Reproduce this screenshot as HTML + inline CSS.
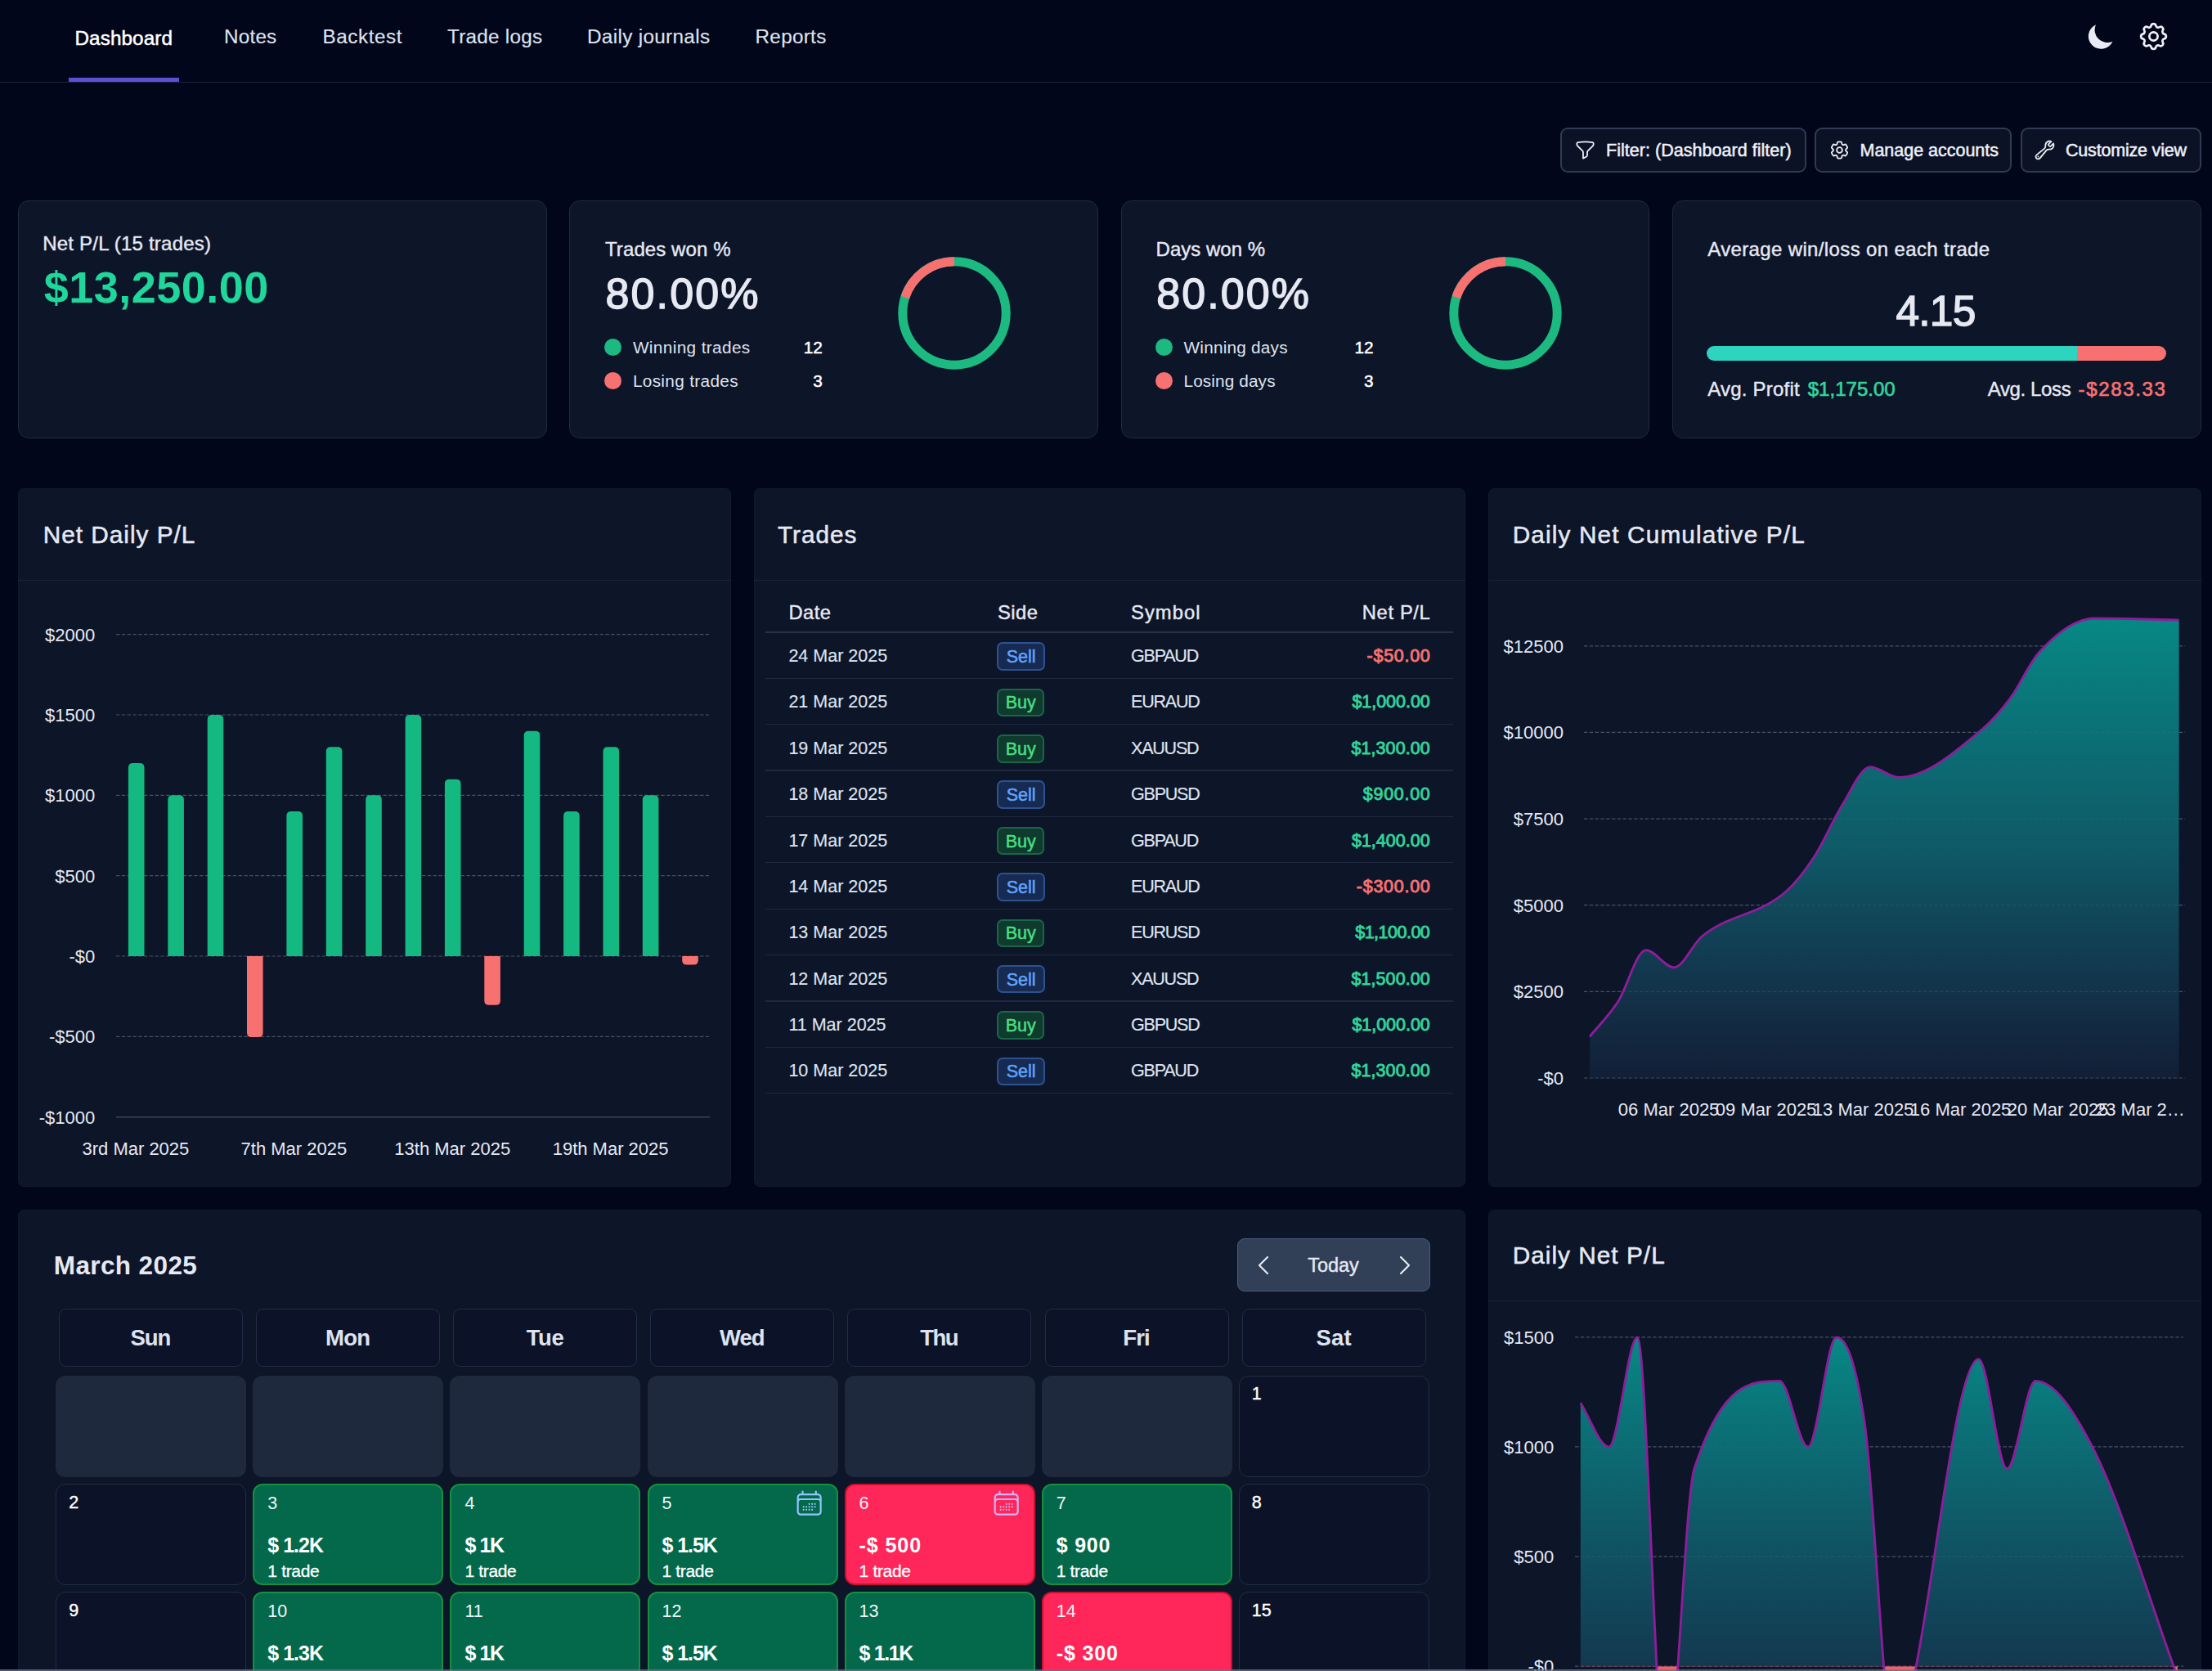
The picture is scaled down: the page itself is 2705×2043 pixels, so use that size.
<!DOCTYPE html>
<html lang="en"><head><meta charset="utf-8"><title>Dashboard</title><style>
html,body{margin:0;padding:0;background:#02061a}
body{width:2705px;height:2043px;position:relative;overflow:hidden;font-family:"Liberation Sans",sans-serif}
#root{position:absolute;left:0;top:0;width:2705px;height:2043px;overflow:hidden}
.t{position:absolute;white-space:nowrap;line-height:1}
.b{position:absolute;box-sizing:border-box}
svg text{font-family:"Liberation Sans",sans-serif}
</style></head><body><div id="root">
<div class="b" style="left:0.00px;top:99.70px;width:2705.00px;height:1.20px;background:#1f2539;"></div>
<div class="b" style="left:84.00px;top:95.40px;width:135.00px;height:4.20px;background:#5b50d6;"></div>
<div class="t" style="left:91.40px;top:35.00px;font-size:24.25px;color:#ffffff;letter-spacing:0.121px;-webkit-text-stroke:0.50px #ffffff;">Dashboard</div>
<div class="t" style="left:274.00px;top:33.00px;font-size:24.25px;color:#dfe3ee;letter-spacing:0.213px;-webkit-text-stroke:0.15px #dfe3ee;">Notes</div>
<div class="t" style="left:394.60px;top:33.00px;font-size:24.25px;color:#dfe3ee;letter-spacing:0.543px;-webkit-text-stroke:0.15px #dfe3ee;">Backtest</div>
<div class="t" style="left:547.00px;top:33.00px;font-size:24.25px;color:#dfe3ee;letter-spacing:0.259px;-webkit-text-stroke:0.15px #dfe3ee;">Trade logs</div>
<div class="t" style="left:718.00px;top:33.00px;font-size:24.25px;color:#dfe3ee;letter-spacing:0.342px;-webkit-text-stroke:0.15px #dfe3ee;">Daily journals</div>
<div class="t" style="left:923.50px;top:33.00px;font-size:24.25px;color:#dfe3ee;letter-spacing:0.315px;-webkit-text-stroke:0.15px #dfe3ee;">Reports</div>
<svg class="b" style="left:2550.1px;top:24.7px" width="38.7" height="38.7" viewBox="0 0 20 20"><path fill="#e9ecf5" d="M17.293 13.293A8 8 0 016.707 2.707a8.001 8.001 0 1010.586 10.586z"/></svg>
<svg class="b" style="left:2612.7px;top:23.9px" width="41" height="41" viewBox="0 0 24 24"><path fill="none" stroke="#eef0f8" stroke-width="1.6" stroke-linecap="round" stroke-linejoin="round" d="M10.325 4.317c.426-1.756 2.924-1.756 3.35 0a1.724 1.724 0 002.573 1.066c1.543-.94 3.31.826 2.37 2.37a1.724 1.724 0 001.065 2.572c1.756.426 1.756 2.924 0 3.35a1.724 1.724 0 00-1.066 2.573c.94 1.543-.826 3.31-2.37 2.37a1.724 1.724 0 00-2.572 1.065c-.426 1.756-2.924 1.756-3.35 0a1.724 1.724 0 00-2.573-1.066c-1.543.94-3.31-.826-2.37-2.37a1.724 1.724 0 00-1.065-2.572c-1.756-.426-1.756-2.924 0-3.35a1.724 1.724 0 001.066-2.573c-.94-1.543.826-3.31 2.37-2.37.996.608 2.296.07 2.572-1.065z"/><path fill="none" stroke="#eef0f8" stroke-width="1.6" stroke-linecap="round" stroke-linejoin="round" d="M15 12a3 3 0 11-6 0 3 3 0 016 0z"/></svg>
<div class="b" style="left:1908.40px;top:155.60px;width:300.60px;height:55.00px;background:#0b1226;border-radius:9px;border:2px solid #303a55;"></div>
<div class="b" style="left:2219.00px;top:155.60px;width:241.00px;height:55.00px;background:#0b1226;border-radius:9px;border:2px solid #303a55;"></div>
<div class="b" style="left:2470.50px;top:155.60px;width:221.00px;height:55.00px;background:#0b1226;border-radius:9px;border:2px solid #303a55;"></div>
<div class="t" style="left:1964.00px;top:174.00px;font-size:21.50px;color:#eef0f8;letter-spacing:0.035px;-webkit-text-stroke:0.50px #eef0f8;">Filter: (Dashboard filter)</div>
<div class="t" style="left:2274.50px;top:174.00px;font-size:21.50px;color:#eef0f8;letter-spacing:-0.016px;-webkit-text-stroke:0.50px #eef0f8;">Manage accounts</div>
<div class="t" style="left:2526.00px;top:174.00px;font-size:21.50px;color:#eef0f8;letter-spacing:-0.196px;-webkit-text-stroke:0.50px #eef0f8;">Customize view</div>
<svg class="b" style="left:1925px;top:170px" width="27" height="27" viewBox="0 0 24 24"><path fill="none" stroke="#eef0f8" stroke-width="1.6" stroke-linecap="round" stroke-linejoin="round" d="M12 3c2.755 0 5.455.232 8.083.678.533.09.917.556.917 1.096v1.044a2.25 2.25 0 0 1-.659 1.591l-5.432 5.432a2.25 2.25 0 0 0-.659 1.591v2.927a2.25 2.25 0 0 1-1.244 2.013L9.75 21v-6.568a2.25 2.25 0 0 0-.659-1.591L3.659 7.409A2.25 2.25 0 0 1 3 5.818V4.774c0-.54.384-1.006.917-1.096A48.32 48.32 0 0 1 12 3Z"/></svg>
<svg class="b" style="left:2236px;top:170px" width="27" height="27" viewBox="0 0 24 24"><path fill="none" stroke="#eef0f8" stroke-width="1.6" stroke-linecap="round" stroke-linejoin="round" d="M9.594 3.94c.09-.542.56-.94 1.11-.94h2.593c.55 0 1.02.398 1.11.94l.213 1.281c.063.374.313.686.645.87.074.04.147.083.22.127.325.196.72.257 1.075.124l1.217-.456a1.125 1.125 0 0 1 1.37.49l1.296 2.247a1.125 1.125 0 0 1-.26 1.431l-1.003.827c-.293.241-.438.613-.43.992a7.723 7.723 0 0 1 0 .255c-.008.378.137.75.43.991l1.004.827c.424.35.534.955.26 1.43l-1.298 2.247a1.125 1.125 0 0 1-1.369.491l-1.217-.456c-.355-.133-.75-.072-1.076.124a6.47 6.47 0 0 1-.22.128c-.331.183-.581.495-.644.869l-.213 1.281c-.09.543-.56.94-1.11.94h-2.594c-.55 0-1.019-.398-1.11-.94l-.213-1.281c-.062-.374-.312-.686-.644-.87a6.52 6.52 0 0 1-.22-.127c-.325-.196-.72-.257-1.076-.124l-1.217.456a1.125 1.125 0 0 1-1.369-.49l-1.297-2.247a1.125 1.125 0 0 1 .26-1.431l1.004-.827c.292-.24.437-.613.43-.991a6.932 6.932 0 0 1 0-.255c.007-.38-.138-.751-.43-.992l-1.004-.827a1.125 1.125 0 0 1-.26-1.43l1.297-2.247a1.125 1.125 0 0 1 1.37-.491l1.216.456c.356.133.751.072 1.076-.124.072-.044.146-.086.22-.128.332-.183.582-.495.644-.869l.214-1.28Z"/><path fill="none" stroke="#eef0f8" stroke-width="1.6" stroke-linecap="round" stroke-linejoin="round" d="M15 12a3 3 0 1 1-6 0 3 3 0 0 1 6 0Z"/></svg>
<svg class="b" style="left:2487px;top:170px" width="27" height="27" viewBox="0 0 24 24"><path fill="none" stroke="#eef0f8" stroke-width="1.6" stroke-linecap="round" stroke-linejoin="round" d="M21.75 6.75a4.5 4.5 0 0 1-4.884 4.484c-1.076-.091-2.264.071-2.95.904l-7.152 8.684a2.548 2.548 0 1 1-3.586-3.586l8.684-7.152c.833-.686.995-1.874.904-2.95a4.5 4.5 0 0 1 6.336-4.486l-3.276 3.276a3.004 3.004 0 0 0 2.25 2.25l3.276-3.276c.256.565.398 1.192.398 1.852Z"/><path fill="none" stroke="#eef0f8" stroke-width="1.6" stroke-linecap="round" stroke-linejoin="round" d="M4.867 19.125h.008v.008h-.008v-.008Z"/></svg>
<div class="b" style="left:22.00px;top:245.00px;width:647.00px;height:291.00px;background:#0d1529;border-radius:13px;border:1.5px solid #202a40;"></div>
<div class="b" style="left:696.00px;top:245.00px;width:647.00px;height:291.00px;background:#0d1529;border-radius:13px;border:1.5px solid #202a40;"></div>
<div class="b" style="left:1370.70px;top:245.00px;width:645.90px;height:291.00px;background:#0d1529;border-radius:13px;border:1.5px solid #202a40;"></div>
<div class="b" style="left:2045.00px;top:245.00px;width:646.50px;height:291.00px;background:#0d1529;border-radius:13px;border:1.5px solid #202a40;"></div>
<div class="t" style="left:52.20px;top:286.00px;font-size:24.00px;color:#e6e9f2;letter-spacing:0.218px;-webkit-text-stroke:0.40px #e6e9f2;">Net P/L (15 trades)</div>
<div class="t" style="left:53.80px;top:324.00px;font-size:54.00px;color:#1fd79b;font-weight:700;letter-spacing:0.459px;">$13,250.00</div>
<div class="t" style="left:740.00px;top:293.00px;font-size:24.00px;color:#e6e9f2;letter-spacing:0.090px;-webkit-text-stroke:0.40px #e6e9f2;">Trades won %</div>
<div class="t" style="left:740.60px;top:333.00px;font-size:52.00px;color:#e6e9f2;letter-spacing:2.087px;-webkit-text-stroke:1.40px #e6e9f2;">80.00%</div>
<div class="b" style="left:739.00px;top:413.60px;width:21.30px;height:21.40px;background:#1cb981;border-radius:11px;"></div>
<div class="b" style="left:739.00px;top:454.70px;width:21.30px;height:21.50px;background:#f87171;border-radius:11px;"></div>
<div class="t" style="left:773.90px;top:415.00px;font-size:20.75px;color:#dfe3ee;letter-spacing:0.377px;">Winning trades</div>
<div class="t" style="left:773.90px;top:456.00px;font-size:20.75px;color:#dfe3ee;letter-spacing:0.343px;">Losing trades</div>
<div class="t" style="left:982.82px;top:415.00px;font-size:20.75px;color:#ffffff;-webkit-text-stroke:0.50px #ffffff;">12</div>
<div class="t" style="left:994.36px;top:456.00px;font-size:20.75px;color:#ffffff;-webkit-text-stroke:0.50px #ffffff;">3</div>
<svg class="b" style="left:1087.0px;top:302.9px" width="160" height="160" viewBox="-80 -80 160 160"><circle r="63.20" fill="none" stroke="#1cb981" stroke-width="11"/><path d="M-60.11 -19.53A63.20 63.20 0 0 1 -0.00 -63.20" fill="none" stroke="#f87171" stroke-width="11"/></svg>
<div class="t" style="left:1413.60px;top:293.00px;font-size:24.00px;color:#e6e9f2;letter-spacing:0.013px;-webkit-text-stroke:0.40px #e6e9f2;">Days won %</div>
<div class="t" style="left:1414.20px;top:333.00px;font-size:52.00px;color:#e6e9f2;letter-spacing:2.087px;-webkit-text-stroke:1.40px #e6e9f2;">80.00%</div>
<div class="b" style="left:1412.60px;top:413.60px;width:21.30px;height:21.40px;background:#1cb981;border-radius:11px;"></div>
<div class="b" style="left:1412.60px;top:454.70px;width:21.30px;height:21.50px;background:#f87171;border-radius:11px;"></div>
<div class="t" style="left:1447.50px;top:415.00px;font-size:20.75px;color:#dfe3ee;letter-spacing:0.222px;">Winning days</div>
<div class="t" style="left:1447.50px;top:456.00px;font-size:20.75px;color:#dfe3ee;letter-spacing:0.126px;">Losing days</div>
<div class="t" style="left:1656.42px;top:415.00px;font-size:20.75px;color:#ffffff;-webkit-text-stroke:0.50px #ffffff;">12</div>
<div class="t" style="left:1667.96px;top:456.00px;font-size:20.75px;color:#ffffff;-webkit-text-stroke:0.50px #ffffff;">3</div>
<svg class="b" style="left:1760.6px;top:302.9px" width="160" height="160" viewBox="-80 -80 160 160"><circle r="63.20" fill="none" stroke="#1cb981" stroke-width="11"/><path d="M-60.11 -19.53A63.20 63.20 0 0 1 -0.00 -63.20" fill="none" stroke="#f87171" stroke-width="11"/></svg>
<div class="t" style="left:2088.20px;top:293.00px;font-size:24.00px;color:#e6e9f2;letter-spacing:0.364px;-webkit-text-stroke:0.40px #e6e9f2;">Average win/loss on each trade</div>
<div class="t" style="left:2318.40px;top:355.00px;font-size:51.50px;color:#e6e9f2;letter-spacing:-0.745px;-webkit-text-stroke:1.40px #e6e9f2;">4.15</div>
<div class="b" style="left:2087.30px;top:423.00px;width:561.50px;height:17.80px;background:linear-gradient(90deg,#2dd4bf 0,#2dd4bf 80.6%,#f87171 80.6%);border-radius:9px;"></div>
<div class="t" style="left:2088.20px;top:464.00px;font-size:24.00px;color:#e6e9f2;letter-spacing:0.223px;-webkit-text-stroke:0.40px #e6e9f2;">Avg. Profit</div>
<div class="t" style="left:2210.70px;top:464.00px;font-size:24.00px;color:#34d399;letter-spacing:0.029px;-webkit-text-stroke:0.70px #34d399;">$1,175.00</div>
<div class="t" style="left:2430.70px;top:464.00px;font-size:24.00px;color:#e6e9f2;letter-spacing:-0.369px;-webkit-text-stroke:0.40px #e6e9f2;">Avg. Loss</div>
<div class="t" style="left:2541.50px;top:464.00px;font-size:24.00px;color:#f87171;letter-spacing:1.650px;-webkit-text-stroke:0.70px #f87171;">-$283.33</div>
<div class="b" style="left:22.00px;top:597.00px;width:872.00px;height:854.00px;background:#0d1529;border-radius:7px;border:1px solid #111a2e;"></div>
<div class="b" style="left:22.00px;top:708.50px;width:872.00px;height:1.50px;background:#1a2338;"></div>
<div class="b" style="left:921.50px;top:597.00px;width:870.50px;height:854.00px;background:#0d1529;border-radius:7px;border:1px solid #111a2e;"></div>
<div class="b" style="left:921.50px;top:708.50px;width:870.50px;height:1.50px;background:#1a2338;"></div>
<div class="b" style="left:1820.00px;top:597.00px;width:871.50px;height:854.00px;background:#0d1529;border-radius:7px;border:1px solid #111a2e;"></div>
<div class="b" style="left:1820.00px;top:708.50px;width:871.50px;height:1.50px;background:#1a2338;"></div>
<div class="b" style="left:22.00px;top:1478.50px;width:1770.00px;height:581.50px;background:#0d1529;border-radius:7px;border:1px solid #111a2e;"></div>
<div class="b" style="left:1820.00px;top:1478.50px;width:871.50px;height:581.50px;background:#0d1529;border-radius:7px;border:1px solid #111a2e;"></div>
<div class="b" style="left:1820.00px;top:1589.50px;width:871.50px;height:1.50px;background:#1a2338;"></div>
<div class="t" style="left:52.80px;top:639.00px;font-size:29.75px;color:#e6e9f2;letter-spacing:0.991px;-webkit-text-stroke:0.50px #e6e9f2;">Net Daily P/L</div>
<div class="t" style="left:951.00px;top:639.00px;font-size:29.75px;color:#e6e9f2;letter-spacing:1.002px;-webkit-text-stroke:0.50px #e6e9f2;">Trades</div>
<div class="t" style="left:1849.70px;top:639.00px;font-size:29.75px;color:#e6e9f2;letter-spacing:1.144px;-webkit-text-stroke:0.50px #e6e9f2;">Daily Net Cumulative P/L</div>
<svg class="b" style="left:0;top:0" width="2705" height="2043" viewBox="0 0 2705 2043"><line x1="142" x2="867" y1="775.7" y2="775.7" stroke="#465268" stroke-width="1.2" stroke-dasharray="4.4 2.4"/><text x="116.3" y="783.7" font-size="22.0" fill="#e6e9f2" text-anchor="end">$2000</text><line x1="142" x2="867" y1="874.0" y2="874.0" stroke="#465268" stroke-width="1.2" stroke-dasharray="4.4 2.4"/><text x="116.3" y="882.0" font-size="22.0" fill="#e6e9f2" text-anchor="end">$1500</text><line x1="142" x2="867" y1="972.3" y2="972.3" stroke="#465268" stroke-width="1.2" stroke-dasharray="4.4 2.4"/><text x="116.3" y="980.3" font-size="22.0" fill="#e6e9f2" text-anchor="end">$1000</text><line x1="142" x2="867" y1="1070.7" y2="1070.7" stroke="#465268" stroke-width="1.2" stroke-dasharray="4.4 2.4"/><text x="116.3" y="1078.7" font-size="22.0" fill="#e6e9f2" text-anchor="end">$500</text><line x1="142" x2="867" y1="1169.0" y2="1169.0" stroke="#465268" stroke-width="1.2" stroke-dasharray="4.4 2.4"/><text x="116.3" y="1177.0" font-size="22.0" fill="#e6e9f2" text-anchor="end">-$0</text><line x1="142" x2="867" y1="1267.3" y2="1267.3" stroke="#465268" stroke-width="1.2" stroke-dasharray="4.4 2.4"/><text x="116.3" y="1275.3" font-size="22.0" fill="#e6e9f2" text-anchor="end">-$500</text><line x1="142" x2="868" y1="1365.7" y2="1365.7" stroke="#37445c" stroke-width="1.5"/><text x="116.3" y="1373.7" font-size="22.0" fill="#e6e9f2" text-anchor="end">-$1000</text><path d="M156.9 1169.0V938.5Q156.9 933.0 162.4 933.0H171.0Q176.5 933.0 176.5 938.5V1169.0Z" fill="#14b981"/><path d="M205.3 1169.0V977.8Q205.3 972.3 210.8 972.3H219.4Q224.9 972.3 224.9 977.8V1169.0Z" fill="#14b981"/><path d="M253.7 1169.0V879.5Q253.7 874.0 259.2 874.0H267.8Q273.3 874.0 273.3 879.5V1169.0Z" fill="#14b981"/><path d="M302.0 1169.0V1262.6Q302.0 1268.1 307.5 1268.1H316.1Q321.6 1268.1 321.6 1262.6V1169.0Z" fill="#f87171"/><path d="M350.4 1169.0V997.5Q350.4 992.0 355.9 992.0H364.5Q370.0 992.0 370.0 997.5V1169.0Z" fill="#14b981"/><path d="M398.8 1169.0V918.8Q398.8 913.3 404.3 913.3H412.9Q418.4 913.3 418.4 918.8V1169.0Z" fill="#14b981"/><path d="M447.2 1169.0V977.8Q447.2 972.3 452.7 972.3H461.3Q466.8 972.3 466.8 977.8V1169.0Z" fill="#14b981"/><path d="M495.6 1169.0V879.5Q495.6 874.0 501.1 874.0H509.7Q515.2 874.0 515.2 879.5V1169.0Z" fill="#14b981"/><path d="M543.9 1169.0V958.2Q543.9 952.7 549.4 952.7H558.0Q563.5 952.7 563.5 958.2V1169.0Z" fill="#14b981"/><path d="M592.3 1169.0V1223.3Q592.3 1228.8 597.8 1228.8H606.4Q611.9 1228.8 611.9 1223.3V1169.0Z" fill="#f87171"/><path d="M640.7 1169.0V899.2Q640.7 893.7 646.2 893.7H654.8Q660.3 893.7 660.3 899.2V1169.0Z" fill="#14b981"/><path d="M689.1 1169.0V997.5Q689.1 992.0 694.6 992.0H703.2Q708.7 992.0 708.7 997.5V1169.0Z" fill="#14b981"/><path d="M737.5 1169.0V918.8Q737.5 913.3 743.0 913.3H751.6Q757.1 913.3 757.1 918.8V1169.0Z" fill="#14b981"/><path d="M785.8 1169.0V977.8Q785.8 972.3 791.3 972.3H799.9Q805.4 972.3 805.4 977.8V1169.0Z" fill="#14b981"/><path d="M834.2 1169.0V1174.1Q834.2 1179.6 839.7 1179.6H848.3Q853.8 1179.6 853.8 1174.1V1169.0Z" fill="#f87171"/><text x="165.9" y="1411.8" font-size="22.0" fill="#e6e9f2" text-anchor="middle">3rd Mar 2025</text><text x="359.4" y="1411.8" font-size="22.0" fill="#e6e9f2" text-anchor="middle">7th Mar 2025</text><text x="553.3" y="1411.8" font-size="22.0" fill="#e6e9f2" text-anchor="middle">13th Mar 2025</text><text x="746.6" y="1411.8" font-size="22.0" fill="#e6e9f2" text-anchor="middle">19th Mar 2025</text><line x1="1937" x2="2672" y1="789.8" y2="789.8" stroke="#465268" stroke-width="1.2" stroke-dasharray="4.4 2.4"/><text x="1912.0" y="797.8" font-size="22.0" fill="#e6e9f2" text-anchor="end">$12500</text><line x1="1937" x2="2672" y1="895.4" y2="895.4" stroke="#465268" stroke-width="1.2" stroke-dasharray="4.4 2.4"/><text x="1912.0" y="903.4" font-size="22.0" fill="#e6e9f2" text-anchor="end">$10000</text><line x1="1937" x2="2672" y1="1001.1" y2="1001.1" stroke="#465268" stroke-width="1.2" stroke-dasharray="4.4 2.4"/><text x="1912.0" y="1009.1" font-size="22.0" fill="#e6e9f2" text-anchor="end">$7500</text><line x1="1937" x2="2672" y1="1106.7" y2="1106.7" stroke="#465268" stroke-width="1.2" stroke-dasharray="4.4 2.4"/><text x="1912.0" y="1114.7" font-size="22.0" fill="#e6e9f2" text-anchor="end">$5000</text><line x1="1937" x2="2672" y1="1212.4" y2="1212.4" stroke="#465268" stroke-width="1.2" stroke-dasharray="4.4 2.4"/><text x="1912.0" y="1220.4" font-size="22.0" fill="#e6e9f2" text-anchor="end">$2500</text><line x1="1937" x2="2672" y1="1318.0" y2="1318.0" stroke="#465268" stroke-width="1.2" stroke-dasharray="4.4 2.4"/><text x="1912.0" y="1326.0" font-size="22.0" fill="#e6e9f2" text-anchor="end">-$0</text><defs><linearGradient id="g1" x1="0" y1="0" x2="0" y2="1"><stop offset="0" stop-color="#078c88" stop-opacity="0.97"/><stop offset="0.5" stop-color="#0f6672" stop-opacity="0.85"/><stop offset="0.8" stop-color="#15425a" stop-opacity="0.7"/><stop offset="1" stop-color="#1a3350" stop-opacity="0.35"/></linearGradient></defs><path d="M1944.10 1267.29C1955.54 1253.21 1966.97 1242.64 1978.41 1225.04C1989.85 1207.43 2001.28 1161.65 2012.72 1161.65C2024.16 1161.65 2035.59 1182.78 2047.03 1182.78C2058.47 1182.78 2069.90 1154.14 2081.34 1144.75C2115.65 1116.58 2149.96 1120.10 2184.27 1089.82C2195.70 1079.72 2207.14 1065.17 2218.58 1047.56C2230.01 1029.95 2241.45 1002.49 2252.89 984.18C2264.32 965.87 2275.76 937.70 2287.20 937.70C2298.63 937.70 2310.07 950.37 2321.50 950.37C2355.81 950.37 2390.12 920.09 2424.43 891.21C2435.87 881.59 2447.31 868.68 2458.74 853.18C2470.18 837.69 2481.62 810.93 2493.05 798.25C2515.93 772.90 2538.80 756.00 2561.67 756.00C2595.98 756.00 2630.29 757.40 2664.60 758.11L2664.60 1318.00L1944.10 1318.00Z" fill="url(#g1)"/><path d="M1944.10 1267.29C1955.54 1253.21 1966.97 1242.64 1978.41 1225.04C1989.85 1207.43 2001.28 1161.65 2012.72 1161.65C2024.16 1161.65 2035.59 1182.78 2047.03 1182.78C2058.47 1182.78 2069.90 1154.14 2081.34 1144.75C2115.65 1116.58 2149.96 1120.10 2184.27 1089.82C2195.70 1079.72 2207.14 1065.17 2218.58 1047.56C2230.01 1029.95 2241.45 1002.49 2252.89 984.18C2264.32 965.87 2275.76 937.70 2287.20 937.70C2298.63 937.70 2310.07 950.37 2321.50 950.37C2355.81 950.37 2390.12 920.09 2424.43 891.21C2435.87 881.59 2447.31 868.68 2458.74 853.18C2470.18 837.69 2481.62 810.93 2493.05 798.25C2515.93 772.90 2538.80 756.00 2561.67 756.00C2595.98 756.00 2630.29 757.40 2664.60 758.11" fill="none" stroke="#8f1d9b" stroke-width="2.8" stroke-linecap="butt"/><text x="2040.6" y="1363.5" font-size="22.0" fill="#e6e9f2" text-anchor="middle">06 Mar 2025</text><text x="2159.6" y="1363.5" font-size="22.0" fill="#e6e9f2" text-anchor="middle">09 Mar 2025</text><text x="2278.6" y="1363.5" font-size="22.0" fill="#e6e9f2" text-anchor="middle">13 Mar 2025</text><text x="2397.6" y="1363.5" font-size="22.0" fill="#e6e9f2" text-anchor="middle">16 Mar 2025</text><text x="2516.6" y="1363.5" font-size="22.0" fill="#e6e9f2" text-anchor="middle">20 Mar 2025</text><text x="2563.0" y="1363.5" font-size="22.0" fill="#e6e9f2" text-anchor="start">23 Mar 2…</text><line x1="1926" x2="2670" y1="1634.8" y2="1634.8" stroke="#465268" stroke-width="1.2" stroke-dasharray="4.4 2.4"/><text x="1900.2" y="1642.8" font-size="22.0" fill="#e6e9f2" text-anchor="end">$1500</text><line x1="1926" x2="2670" y1="1768.9" y2="1768.9" stroke="#465268" stroke-width="1.2" stroke-dasharray="4.4 2.4"/><text x="1900.2" y="1776.9" font-size="22.0" fill="#e6e9f2" text-anchor="end">$1000</text><line x1="1926" x2="2670" y1="1903.1" y2="1903.1" stroke="#465268" stroke-width="1.2" stroke-dasharray="4.4 2.4"/><text x="1900.2" y="1911.1" font-size="22.0" fill="#e6e9f2" text-anchor="end">$500</text><line x1="1926" x2="2670" y1="2037.2" y2="2037.2" stroke="#465268" stroke-width="1.2" stroke-dasharray="4.4 2.4"/><text x="1900.2" y="2045.2" font-size="22.0" fill="#e6e9f2" text-anchor="end">-$0</text><defs><linearGradient id="g2" gradientUnits="userSpaceOnUse" x1="0" y1="1634" x2="0" y2="2060"><stop offset="0" stop-color="#078c88" stop-opacity="0.97"/><stop offset="0.5" stop-color="#0f6672" stop-opacity="0.88"/><stop offset="1" stop-color="#15405a" stop-opacity="0.75"/></linearGradient><clipPath id="cu"><rect x="1900" y="1590" width="800" height="447.2"/></clipPath><clipPath id="cd"><rect x="1900" y="2037.2" width="800" height="200"/></clipPath></defs><path d="M1932.80 1715.29C1944.39 1733.17 1955.98 1768.94 1967.57 1768.94C1979.16 1768.94 1990.75 1634.81 2002.34 1634.81C2013.93 1634.81 2025.52 2171.33 2037.11 2171.33C2048.70 2171.33 2060.30 1831.53 2071.89 1795.77C2106.66 1688.46 2141.43 1688.46 2176.20 1688.46C2187.79 1688.46 2199.38 1768.94 2210.97 1768.94C2222.56 1768.94 2234.15 1634.81 2245.74 1634.81C2257.33 1634.81 2268.92 1661.64 2280.51 1742.11C2292.10 1822.59 2303.70 2117.68 2315.29 2117.68C2350.06 2117.68 2384.83 1661.64 2419.60 1661.64C2431.19 1661.64 2442.78 1795.77 2454.37 1795.77C2465.96 1795.77 2477.55 1688.46 2489.14 1688.46C2512.32 1688.46 2535.50 1724.23 2558.69 1768.94C2593.46 1836.00 2628.23 1956.72 2663.00 2050.61L2663.00 2037.20L1932.80 2037.20Z" fill="url(#g2)" clip-path="url(#cu)"/><path d="M1932.80 1715.29C1944.39 1733.17 1955.98 1768.94 1967.57 1768.94C1979.16 1768.94 1990.75 1634.81 2002.34 1634.81C2013.93 1634.81 2025.52 2171.33 2037.11 2171.33C2048.70 2171.33 2060.30 1831.53 2071.89 1795.77C2106.66 1688.46 2141.43 1688.46 2176.20 1688.46C2187.79 1688.46 2199.38 1768.94 2210.97 1768.94C2222.56 1768.94 2234.15 1634.81 2245.74 1634.81C2257.33 1634.81 2268.92 1661.64 2280.51 1742.11C2292.10 1822.59 2303.70 2117.68 2315.29 2117.68C2350.06 2117.68 2384.83 1661.64 2419.60 1661.64C2431.19 1661.64 2442.78 1795.77 2454.37 1795.77C2465.96 1795.77 2477.55 1688.46 2489.14 1688.46C2512.32 1688.46 2535.50 1724.23 2558.69 1768.94C2593.46 1836.00 2628.23 1956.72 2663.00 2050.61L2663.00 2037.20L1932.80 2037.20Z" fill="#f0606a" clip-path="url(#cd)"/><path d="M1932.80 1715.29C1944.39 1733.17 1955.98 1768.94 1967.57 1768.94C1979.16 1768.94 1990.75 1634.81 2002.34 1634.81C2013.93 1634.81 2025.52 2171.33 2037.11 2171.33C2048.70 2171.33 2060.30 1831.53 2071.89 1795.77C2106.66 1688.46 2141.43 1688.46 2176.20 1688.46C2187.79 1688.46 2199.38 1768.94 2210.97 1768.94C2222.56 1768.94 2234.15 1634.81 2245.74 1634.81C2257.33 1634.81 2268.92 1661.64 2280.51 1742.11C2292.10 1822.59 2303.70 2117.68 2315.29 2117.68C2350.06 2117.68 2384.83 1661.64 2419.60 1661.64C2431.19 1661.64 2442.78 1795.77 2454.37 1795.77C2465.96 1795.77 2477.55 1688.46 2489.14 1688.46C2512.32 1688.46 2535.50 1724.23 2558.69 1768.94C2593.46 1836.00 2628.23 1956.72 2663.00 2050.61" fill="none" stroke="#8f1d9b" stroke-width="2.8"/></svg>
<div class="t" style="left:964.40px;top:737.00px;font-size:23.75px;color:#e6e9f2;letter-spacing:0.444px;-webkit-text-stroke:0.40px #e6e9f2;">Date</div>
<div class="t" style="left:1220.00px;top:737.00px;font-size:23.75px;color:#e6e9f2;letter-spacing:0.488px;-webkit-text-stroke:0.40px #e6e9f2;">Side</div>
<div class="t" style="left:1383.00px;top:737.00px;font-size:23.75px;color:#e6e9f2;letter-spacing:1.061px;-webkit-text-stroke:0.40px #e6e9f2;">Symbol</div>
<div class="t" style="left:1665.80px;top:737.00px;font-size:23.75px;color:#e6e9f2;letter-spacing:0.632px;-webkit-text-stroke:0.40px #e6e9f2;">Net P/L</div>
<div class="b" style="left:936.00px;top:771.50px;width:840.50px;height:2.00px;background:#27324a;"></div>
<div class="b" style="left:936.00px;top:828.65px;width:840.50px;height:1.30px;background:#1e2940;"></div>
<div class="t" style="left:964.40px;top:792.00px;font-size:21.50px;color:#dfe3ee;-webkit-text-stroke:0.15px #dfe3ee;">24 Mar 2025</div>
<div class="b" style="left:1219.30px;top:785.30px;width:58.70px;height:34.50px;background:#172a52;border-radius:7px;border:2px solid #2c5390;"></div>
<div class="t" style="left:1230.67px;top:793.00px;font-size:21.50px;color:#60a5fa;-webkit-text-stroke:0.50px #60a5fa;">Sell</div>
<div class="t" style="left:1383.00px;top:792.00px;font-size:21.50px;color:#dfe3ee;letter-spacing:-1.204px;-webkit-text-stroke:0.15px #dfe3ee;">GBPAUD</div>
<div class="t" style="left:1671.60px;top:792.00px;font-size:21.50px;color:#f87171;letter-spacing:0.713px;-webkit-text-stroke:0.90px #f87171;">-$50.00</div>
<div class="b" style="left:936.00px;top:885.03px;width:840.50px;height:1.30px;background:#1e2940;"></div>
<div class="t" style="left:964.40px;top:848.00px;font-size:21.50px;color:#dfe3ee;-webkit-text-stroke:0.15px #dfe3ee;">21 Mar 2025</div>
<div class="b" style="left:1219.30px;top:841.68px;width:57.90px;height:34.50px;background:#0f3a2e;border-radius:7px;border:2px solid #1b6648;"></div>
<div class="t" style="left:1229.68px;top:849.00px;font-size:21.50px;color:#4ade80;-webkit-text-stroke:0.50px #4ade80;">Buy</div>
<div class="t" style="left:1383.00px;top:848.00px;font-size:21.50px;color:#dfe3ee;letter-spacing:-1.204px;-webkit-text-stroke:0.15px #dfe3ee;">EURAUD</div>
<div class="t" style="left:1653.40px;top:848.00px;font-size:21.50px;color:#34d399;letter-spacing:-0.031px;-webkit-text-stroke:0.90px #34d399;">$1,000.00</div>
<div class="b" style="left:936.00px;top:941.41px;width:840.50px;height:1.30px;background:#1e2940;"></div>
<div class="t" style="left:964.40px;top:905.00px;font-size:21.50px;color:#dfe3ee;-webkit-text-stroke:0.15px #dfe3ee;">19 Mar 2025</div>
<div class="b" style="left:1219.30px;top:898.06px;width:57.90px;height:34.50px;background:#0f3a2e;border-radius:7px;border:2px solid #1b6648;"></div>
<div class="t" style="left:1229.68px;top:906.00px;font-size:21.50px;color:#4ade80;-webkit-text-stroke:0.50px #4ade80;">Buy</div>
<div class="t" style="left:1383.00px;top:905.00px;font-size:21.50px;color:#dfe3ee;letter-spacing:-1.200px;-webkit-text-stroke:0.15px #dfe3ee;">XAUUSD</div>
<div class="t" style="left:1652.40px;top:905.00px;font-size:21.50px;color:#34d399;letter-spacing:0.094px;-webkit-text-stroke:0.90px #34d399;">$1,300.00</div>
<div class="b" style="left:936.00px;top:997.79px;width:840.50px;height:1.30px;background:#1e2940;"></div>
<div class="t" style="left:964.40px;top:961.00px;font-size:21.50px;color:#dfe3ee;-webkit-text-stroke:0.15px #dfe3ee;">18 Mar 2025</div>
<div class="b" style="left:1219.30px;top:954.44px;width:58.70px;height:34.50px;background:#172a52;border-radius:7px;border:2px solid #2c5390;"></div>
<div class="t" style="left:1230.67px;top:962.00px;font-size:21.50px;color:#60a5fa;-webkit-text-stroke:0.50px #60a5fa;">Sell</div>
<div class="t" style="left:1383.00px;top:961.00px;font-size:21.50px;color:#dfe3ee;letter-spacing:-1.204px;-webkit-text-stroke:0.15px #dfe3ee;">GBPUSD</div>
<div class="t" style="left:1666.80px;top:961.00px;font-size:21.50px;color:#34d399;letter-spacing:0.714px;-webkit-text-stroke:0.90px #34d399;">$900.00</div>
<div class="b" style="left:936.00px;top:1054.17px;width:840.50px;height:1.30px;background:#1e2940;"></div>
<div class="t" style="left:964.40px;top:1018.00px;font-size:21.50px;color:#dfe3ee;-webkit-text-stroke:0.15px #dfe3ee;">17 Mar 2025</div>
<div class="b" style="left:1219.30px;top:1010.82px;width:57.90px;height:34.50px;background:#0f3a2e;border-radius:7px;border:2px solid #1b6648;"></div>
<div class="t" style="left:1229.68px;top:1019.00px;font-size:21.50px;color:#4ade80;-webkit-text-stroke:0.50px #4ade80;">Buy</div>
<div class="t" style="left:1383.00px;top:1018.00px;font-size:21.50px;color:#dfe3ee;letter-spacing:-1.204px;-webkit-text-stroke:0.15px #dfe3ee;">GBPAUD</div>
<div class="t" style="left:1652.90px;top:1018.00px;font-size:21.50px;color:#34d399;letter-spacing:0.031px;-webkit-text-stroke:0.90px #34d399;">$1,400.00</div>
<div class="b" style="left:936.00px;top:1110.55px;width:840.50px;height:1.30px;background:#1e2940;"></div>
<div class="t" style="left:964.40px;top:1074.00px;font-size:21.50px;color:#dfe3ee;-webkit-text-stroke:0.15px #dfe3ee;">14 Mar 2025</div>
<div class="b" style="left:1219.30px;top:1067.20px;width:58.70px;height:34.50px;background:#172a52;border-radius:7px;border:2px solid #2c5390;"></div>
<div class="t" style="left:1230.67px;top:1075.00px;font-size:21.50px;color:#60a5fa;-webkit-text-stroke:0.50px #60a5fa;">Sell</div>
<div class="t" style="left:1383.00px;top:1074.00px;font-size:21.50px;color:#dfe3ee;letter-spacing:-1.204px;-webkit-text-stroke:0.15px #dfe3ee;">EURAUD</div>
<div class="t" style="left:1658.80px;top:1074.00px;font-size:21.50px;color:#f87171;letter-spacing:0.732px;-webkit-text-stroke:0.90px #f87171;">-$300.00</div>
<div class="b" style="left:936.00px;top:1166.93px;width:840.50px;height:1.30px;background:#1e2940;"></div>
<div class="t" style="left:964.40px;top:1130.00px;font-size:21.50px;color:#dfe3ee;-webkit-text-stroke:0.15px #dfe3ee;">13 Mar 2025</div>
<div class="b" style="left:1219.30px;top:1123.58px;width:57.90px;height:34.50px;background:#0f3a2e;border-radius:7px;border:2px solid #1b6648;"></div>
<div class="t" style="left:1229.68px;top:1131.00px;font-size:21.50px;color:#4ade80;-webkit-text-stroke:0.50px #4ade80;">Buy</div>
<div class="t" style="left:1383.00px;top:1130.00px;font-size:21.50px;color:#dfe3ee;letter-spacing:-1.204px;-webkit-text-stroke:0.15px #dfe3ee;">EURUSD</div>
<div class="t" style="left:1657.20px;top:1130.00px;font-size:21.50px;color:#34d399;letter-spacing:-0.506px;-webkit-text-stroke:0.90px #34d399;">$1,100.00</div>
<div class="b" style="left:936.00px;top:1223.31px;width:840.50px;height:1.30px;background:#1e2940;"></div>
<div class="t" style="left:964.40px;top:1187.00px;font-size:21.50px;color:#dfe3ee;-webkit-text-stroke:0.15px #dfe3ee;">12 Mar 2025</div>
<div class="b" style="left:1219.30px;top:1179.96px;width:58.70px;height:34.50px;background:#172a52;border-radius:7px;border:2px solid #2c5390;"></div>
<div class="t" style="left:1230.67px;top:1188.00px;font-size:21.50px;color:#60a5fa;-webkit-text-stroke:0.50px #60a5fa;">Sell</div>
<div class="t" style="left:1383.00px;top:1187.00px;font-size:21.50px;color:#dfe3ee;letter-spacing:-1.200px;-webkit-text-stroke:0.15px #dfe3ee;">XAUUSD</div>
<div class="t" style="left:1652.40px;top:1187.00px;font-size:21.50px;color:#34d399;letter-spacing:0.094px;-webkit-text-stroke:0.90px #34d399;">$1,500.00</div>
<div class="b" style="left:936.00px;top:1279.69px;width:840.50px;height:1.30px;background:#1e2940;"></div>
<div class="t" style="left:964.40px;top:1243.00px;font-size:21.50px;color:#dfe3ee;-webkit-text-stroke:0.15px #dfe3ee;">11 Mar 2025</div>
<div class="b" style="left:1219.30px;top:1236.34px;width:57.90px;height:34.50px;background:#0f3a2e;border-radius:7px;border:2px solid #1b6648;"></div>
<div class="t" style="left:1229.68px;top:1244.00px;font-size:21.50px;color:#4ade80;-webkit-text-stroke:0.50px #4ade80;">Buy</div>
<div class="t" style="left:1383.00px;top:1243.00px;font-size:21.50px;color:#dfe3ee;letter-spacing:-1.204px;-webkit-text-stroke:0.15px #dfe3ee;">GBPUSD</div>
<div class="t" style="left:1653.40px;top:1243.00px;font-size:21.50px;color:#34d399;letter-spacing:-0.031px;-webkit-text-stroke:0.90px #34d399;">$1,000.00</div>
<div class="b" style="left:936.00px;top:1336.07px;width:840.50px;height:1.30px;background:#1e2940;"></div>
<div class="t" style="left:964.40px;top:1299.00px;font-size:21.50px;color:#dfe3ee;-webkit-text-stroke:0.15px #dfe3ee;">10 Mar 2025</div>
<div class="b" style="left:1219.30px;top:1292.72px;width:58.70px;height:34.50px;background:#172a52;border-radius:7px;border:2px solid #2c5390;"></div>
<div class="t" style="left:1230.67px;top:1300.00px;font-size:21.50px;color:#60a5fa;-webkit-text-stroke:0.50px #60a5fa;">Sell</div>
<div class="t" style="left:1383.00px;top:1299.00px;font-size:21.50px;color:#dfe3ee;letter-spacing:-1.204px;-webkit-text-stroke:0.15px #dfe3ee;">GBPAUD</div>
<div class="t" style="left:1652.40px;top:1299.00px;font-size:21.50px;color:#34d399;letter-spacing:0.094px;-webkit-text-stroke:0.90px #34d399;">$1,300.00</div>
<div class="t" style="left:65.80px;top:1532.00px;font-size:31.50px;color:#e6e9f2;font-weight:700;letter-spacing:0.377px;">March 2025</div>
<div class="b" style="left:1512.60px;top:1514.30px;width:236.90px;height:65.00px;background:#313f57;border-radius:9px;border:1.5px solid #4b5b76;"></div>
<div class="t" style="left:1599.15px;top:1536.00px;font-size:23.50px;color:#e6e9f2;-webkit-text-stroke:0.40px #e6e9f2;">Today</div>
<svg class="b" style="left:1530px;top:1531px" width="32" height="32" viewBox="0 0 24 24"><path d="M15 4.5L7.5 12l7.5 7.5" fill="none" stroke="#e6e9f2" stroke-width="1.6" stroke-linecap="round" stroke-linejoin="round"/></svg>
<svg class="b" style="left:1701px;top:1531px" width="32" height="32" viewBox="0 0 24 24"><path d="M9 4.5l7.5 7.5L9 19.5" fill="none" stroke="#e6e9f2" stroke-width="1.6" stroke-linecap="round" stroke-linejoin="round"/></svg>
<div class="b" style="left:72.00px;top:1600.30px;width:225.00px;height:70.70px;background:#0c1328;border-radius:9px;border:1.5px solid #222c44;"></div>
<div class="t" style="left:159.60px;top:1622.00px;font-size:27.50px;color:#dfe3ee;font-weight:700;letter-spacing:-1.069px;">Sun</div>
<div class="b" style="left:313.10px;top:1600.30px;width:225.00px;height:70.70px;background:#0c1328;border-radius:9px;border:1.5px solid #222c44;"></div>
<div class="t" style="left:398.05px;top:1622.00px;font-size:27.50px;color:#dfe3ee;font-weight:700;letter-spacing:-0.702px;">Mon</div>
<div class="b" style="left:554.20px;top:1600.30px;width:225.00px;height:70.70px;background:#0c1328;border-radius:9px;border:1.5px solid #222c44;"></div>
<div class="t" style="left:643.65px;top:1622.00px;font-size:27.50px;color:#dfe3ee;font-weight:700;letter-spacing:-0.375px;">Tue</div>
<div class="b" style="left:795.30px;top:1600.30px;width:225.00px;height:70.70px;background:#0c1328;border-radius:9px;border:1.5px solid #222c44;"></div>
<div class="t" style="left:880.10px;top:1622.00px;font-size:27.50px;color:#dfe3ee;font-weight:700;letter-spacing:-1.076px;">Wed</div>
<div class="b" style="left:1036.40px;top:1600.30px;width:225.00px;height:70.70px;background:#0c1328;border-radius:9px;border:1.5px solid #222c44;"></div>
<div class="t" style="left:1125.24px;top:1622.00px;font-size:27.50px;color:#dfe3ee;font-weight:700;letter-spacing:-1.540px;">Thu</div>
<div class="b" style="left:1277.50px;top:1600.30px;width:225.00px;height:70.70px;background:#0c1328;border-radius:9px;border:1.5px solid #222c44;"></div>
<div class="t" style="left:1373.35px;top:1622.00px;font-size:27.50px;color:#dfe3ee;font-weight:700;letter-spacing:-0.920px;">Fri</div>
<div class="b" style="left:1518.60px;top:1600.30px;width:225.00px;height:70.70px;background:#0c1328;border-radius:9px;border:1.5px solid #222c44;"></div>
<div class="t" style="left:1609.50px;top:1622.00px;font-size:27.50px;color:#dfe3ee;font-weight:700;letter-spacing:0.203px;">Sat</div>
<div class="b" style="left:68.20px;top:1681.70px;width:233.00px;height:124.00px;background:#1f293d;border-radius:12px;"></div>
<div class="b" style="left:309.30px;top:1681.70px;width:233.00px;height:124.00px;background:#1f293d;border-radius:12px;"></div>
<div class="b" style="left:550.40px;top:1681.70px;width:233.00px;height:124.00px;background:#1f293d;border-radius:12px;"></div>
<div class="b" style="left:791.50px;top:1681.70px;width:233.00px;height:124.00px;background:#1f293d;border-radius:12px;"></div>
<div class="b" style="left:1032.60px;top:1681.70px;width:233.00px;height:124.00px;background:#1f293d;border-radius:12px;"></div>
<div class="b" style="left:1273.70px;top:1681.70px;width:233.00px;height:124.00px;background:#1f293d;border-radius:12px;"></div>
<div class="b" style="left:1514.80px;top:1681.70px;width:233.00px;height:124.00px;background:#0c1328;border-radius:12px;border:1.5px solid #222c44;"></div>
<div class="t" style="left:1530.80px;top:1694.00px;font-size:21.50px;color:#ffffff;-webkit-text-stroke:0.40px #ffffff;">1</div>
<div class="b" style="left:68.20px;top:1813.90px;width:233.00px;height:124.00px;background:#0c1328;border-radius:12px;border:1.5px solid #222c44;"></div>
<div class="t" style="left:84.20px;top:1827.00px;font-size:21.50px;color:#ffffff;-webkit-text-stroke:0.40px #ffffff;">2</div>
<div class="b" style="left:309.30px;top:1813.90px;width:233.00px;height:124.00px;background:#04694a;border-radius:12px;border:2.7px solid #15903f;"></div>
<div class="t" style="left:327.30px;top:1828.00px;font-size:21.50px;color:#f1f5f9;">3</div>
<div class="t" style="left:327.30px;top:1877.00px;font-size:25.00px;color:#ffffff;font-weight:700;letter-spacing:-0.991px;">$ 1.2K</div>
<div class="t" style="left:327.30px;top:1910.00px;font-size:21.00px;color:#ffffff;letter-spacing:-0.330px;-webkit-text-stroke:0.30px #ffffff;">1 trade</div>
<div class="b" style="left:550.40px;top:1813.90px;width:233.00px;height:124.00px;background:#04694a;border-radius:12px;border:2.7px solid #15903f;"></div>
<div class="t" style="left:568.40px;top:1828.00px;font-size:21.50px;color:#f1f5f9;">4</div>
<div class="t" style="left:568.40px;top:1877.00px;font-size:25.00px;color:#ffffff;font-weight:700;letter-spacing:-1.400px;">$ 1K</div>
<div class="t" style="left:568.40px;top:1910.00px;font-size:21.00px;color:#ffffff;letter-spacing:-0.330px;-webkit-text-stroke:0.30px #ffffff;">1 trade</div>
<div class="b" style="left:791.50px;top:1813.90px;width:233.00px;height:124.00px;background:#04694a;border-radius:12px;border:2.7px solid #15903f;"></div>
<div class="t" style="left:809.50px;top:1828.00px;font-size:21.50px;color:#f1f5f9;">5</div>
<div class="t" style="left:809.50px;top:1877.00px;font-size:25.00px;color:#ffffff;font-weight:700;letter-spacing:-1.071px;">$ 1.5K</div>
<div class="t" style="left:809.50px;top:1910.00px;font-size:21.00px;color:#ffffff;letter-spacing:-0.330px;-webkit-text-stroke:0.30px #ffffff;">1 trade</div>
<svg class="b" style="left:970.5px;top:1819.0px" width="37.3" height="37.3" viewBox="0 0 24 24"><path fill="none" stroke="#93c5fd" stroke-width="1.4" stroke-linecap="round" stroke-linejoin="round" d="M6.75 3v2.25M17.25 3v2.25M3 18.75V7.5a2.25 2.25 0 0 1 2.25-2.25h13.5A2.25 2.25 0 0 1 21 7.5v11.25m-18 0A2.25 2.25 0 0 0 5.25 21h13.5A2.25 2.25 0 0 0 21 18.75m-18 0v-7.5A2.25 2.25 0 0 1 5.25 9h13.5A2.25 2.25 0 0 1 21 11.25v7.5m-9-6h.008v.008H12v-.008ZM12 15h.008v.008H12V15Zm0 2.25h.008v.008H12v-.008ZM9.75 15h.008v.008H9.75V15Zm0 2.25h.008v.008H9.75v-.008ZM7.5 15h.008v.008H7.5V15Zm0 2.25h.008v.008H7.5v-.008Zm6.75-4.5h.008v.008h-.008v-.008Zm0 2.25h.008v.008h-.008V15Zm0 2.25h.008v.008h-.008v-.008Zm2.25-4.5h.008v.008H16.5v-.008Zm0 2.25h.008v.008H16.5V15Z"/></svg>
<div class="b" style="left:1032.60px;top:1813.90px;width:233.00px;height:124.00px;background:#ff2659;border-radius:12px;border:2.7px solid #cc0f2c;"></div>
<div class="t" style="left:1050.60px;top:1828.00px;font-size:21.50px;color:#f1f5f9;">6</div>
<div class="t" style="left:1050.60px;top:1877.00px;font-size:25.00px;color:#ffffff;font-weight:700;letter-spacing:0.923px;">-$ 500</div>
<div class="t" style="left:1050.60px;top:1910.00px;font-size:21.00px;color:#ffffff;letter-spacing:-0.330px;-webkit-text-stroke:0.30px #ffffff;">1 trade</div>
<svg class="b" style="left:1211.6px;top:1819.0px" width="37.3" height="37.3" viewBox="0 0 24 24"><path fill="none" stroke="#cdb4f6" stroke-width="1.4" stroke-linecap="round" stroke-linejoin="round" d="M6.75 3v2.25M17.25 3v2.25M3 18.75V7.5a2.25 2.25 0 0 1 2.25-2.25h13.5A2.25 2.25 0 0 1 21 7.5v11.25m-18 0A2.25 2.25 0 0 0 5.25 21h13.5A2.25 2.25 0 0 0 21 18.75m-18 0v-7.5A2.25 2.25 0 0 1 5.25 9h13.5A2.25 2.25 0 0 1 21 11.25v7.5m-9-6h.008v.008H12v-.008ZM12 15h.008v.008H12V15Zm0 2.25h.008v.008H12v-.008ZM9.75 15h.008v.008H9.75V15Zm0 2.25h.008v.008H9.75v-.008ZM7.5 15h.008v.008H7.5V15Zm0 2.25h.008v.008H7.5v-.008Zm6.75-4.5h.008v.008h-.008v-.008Zm0 2.25h.008v.008h-.008V15Zm0 2.25h.008v.008h-.008v-.008Zm2.25-4.5h.008v.008H16.5v-.008Zm0 2.25h.008v.008H16.5V15Z"/></svg>
<div class="b" style="left:1273.70px;top:1813.90px;width:233.00px;height:124.00px;background:#04694a;border-radius:12px;border:2.7px solid #15903f;"></div>
<div class="t" style="left:1291.70px;top:1828.00px;font-size:21.50px;color:#f1f5f9;">7</div>
<div class="t" style="left:1291.70px;top:1877.00px;font-size:25.00px;color:#ffffff;font-weight:700;letter-spacing:0.810px;">$ 900</div>
<div class="t" style="left:1291.70px;top:1910.00px;font-size:21.00px;color:#ffffff;letter-spacing:-0.330px;-webkit-text-stroke:0.30px #ffffff;">1 trade</div>
<div class="b" style="left:1514.80px;top:1813.90px;width:233.00px;height:124.00px;background:#0c1328;border-radius:12px;border:1.5px solid #222c44;"></div>
<div class="t" style="left:1530.80px;top:1827.00px;font-size:21.50px;color:#ffffff;-webkit-text-stroke:0.40px #ffffff;">8</div>
<div class="b" style="left:68.20px;top:1946.10px;width:233.00px;height:124.00px;background:#0c1328;border-radius:12px;border:1.5px solid #222c44;"></div>
<div class="t" style="left:84.20px;top:1959.00px;font-size:21.50px;color:#ffffff;-webkit-text-stroke:0.40px #ffffff;">9</div>
<div class="b" style="left:309.30px;top:1946.10px;width:233.00px;height:124.00px;background:#04694a;border-radius:12px;border:2.7px solid #15903f;"></div>
<div class="t" style="left:327.30px;top:1960.00px;font-size:21.50px;color:#f1f5f9;">10</div>
<div class="t" style="left:327.30px;top:2009.00px;font-size:25.00px;color:#ffffff;font-weight:700;letter-spacing:-0.991px;">$ 1.3K</div>
<div class="t" style="left:327.30px;top:2042.00px;font-size:21.00px;color:#ffffff;letter-spacing:-0.330px;-webkit-text-stroke:0.30px #ffffff;">1 trade</div>
<div class="b" style="left:550.40px;top:1946.10px;width:233.00px;height:124.00px;background:#04694a;border-radius:12px;border:2.7px solid #15903f;"></div>
<div class="t" style="left:568.40px;top:1960.00px;font-size:21.50px;color:#f1f5f9;">11</div>
<div class="t" style="left:568.40px;top:2009.00px;font-size:25.00px;color:#ffffff;font-weight:700;letter-spacing:-1.400px;">$ 1K</div>
<div class="t" style="left:568.40px;top:2042.00px;font-size:21.00px;color:#ffffff;letter-spacing:-0.330px;-webkit-text-stroke:0.30px #ffffff;">1 trade</div>
<div class="b" style="left:791.50px;top:1946.10px;width:233.00px;height:124.00px;background:#04694a;border-radius:12px;border:2.7px solid #15903f;"></div>
<div class="t" style="left:809.50px;top:1960.00px;font-size:21.50px;color:#f1f5f9;">12</div>
<div class="t" style="left:809.50px;top:2009.00px;font-size:25.00px;color:#ffffff;font-weight:700;letter-spacing:-1.071px;">$ 1.5K</div>
<div class="t" style="left:809.50px;top:2042.00px;font-size:21.00px;color:#ffffff;letter-spacing:-0.330px;-webkit-text-stroke:0.30px #ffffff;">1 trade</div>
<div class="b" style="left:1032.60px;top:1946.10px;width:233.00px;height:124.00px;background:#04694a;border-radius:12px;border:2.7px solid #15903f;"></div>
<div class="t" style="left:1050.60px;top:1960.00px;font-size:21.50px;color:#f1f5f9;">13</div>
<div class="t" style="left:1050.60px;top:2009.00px;font-size:25.00px;color:#ffffff;font-weight:700;letter-spacing:-1.400px;">$ 1.1K</div>
<div class="t" style="left:1050.60px;top:2042.00px;font-size:21.00px;color:#ffffff;letter-spacing:-0.330px;-webkit-text-stroke:0.30px #ffffff;">1 trade</div>
<div class="b" style="left:1273.70px;top:1946.10px;width:233.00px;height:124.00px;background:#ff2659;border-radius:12px;border:2.7px solid #cc0f2c;"></div>
<div class="t" style="left:1291.70px;top:1960.00px;font-size:21.50px;color:#f1f5f9;">14</div>
<div class="t" style="left:1291.70px;top:2009.00px;font-size:25.00px;color:#ffffff;font-weight:700;letter-spacing:0.883px;">-$ 300</div>
<div class="t" style="left:1291.70px;top:2042.00px;font-size:21.00px;color:#ffffff;letter-spacing:-0.330px;-webkit-text-stroke:0.30px #ffffff;">1 trade</div>
<div class="b" style="left:1514.80px;top:1946.10px;width:233.00px;height:124.00px;background:#0c1328;border-radius:12px;border:1.5px solid #222c44;"></div>
<div class="t" style="left:1530.80px;top:1959.00px;font-size:21.50px;color:#ffffff;-webkit-text-stroke:0.40px #ffffff;">15</div>
<div class="t" style="left:1849.70px;top:1520.00px;font-size:29.75px;color:#e6e9f2;letter-spacing:1.033px;-webkit-text-stroke:0.50px #e6e9f2;">Daily Net P/L</div>
<div class="b" style="left:0.00px;top:2040.80px;width:2705.00px;height:2.70px;background:rgba(105,115,130,0.75);"></div>
</div></body></html>
